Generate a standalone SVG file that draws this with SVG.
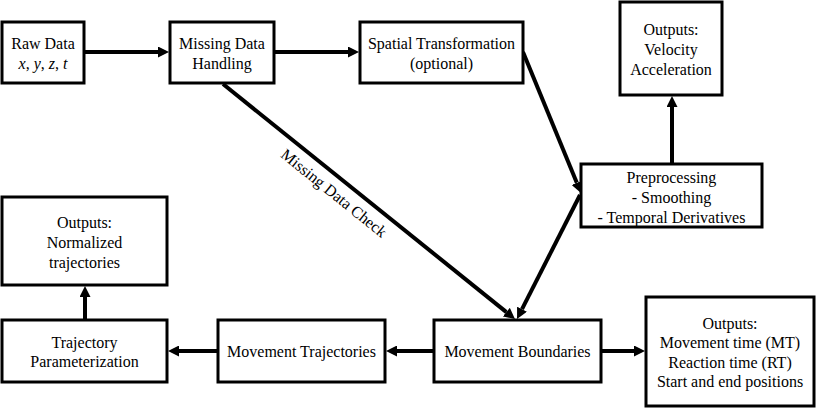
<svg xmlns="http://www.w3.org/2000/svg" width="816" height="408" viewBox="0 0 816 408">
<style>
.box{fill:#fff;stroke:#000;stroke-width:3}
.t{font-family:"Liberation Serif","Times New Roman",serif;font-size:16px;fill:#000;text-anchor:middle}
.c{fill:none;stroke:#000;stroke-width:4}
</style>
<defs>
<marker id="ah" viewBox="0 0 11 11" markerWidth="11" markerHeight="11" refX="0" refY="5.5" markerUnits="userSpaceOnUse" orient="auto">
<path d="M0,0 L11,5.5 L0,11 z" fill="#000"/>
</marker>
</defs>
<rect width="816" height="408" fill="#fff"/>
<g id="connectors">
<line class="c" x1="85" y1="52" x2="158" y2="52" marker-end="url(#ah)"/>
<line class="c" x1="274" y1="52" x2="348" y2="52" marker-end="url(#ah)"/>
<line class="c" x1="523" y1="52" x2="576.8" y2="182.8" marker-end="url(#ah)"/>
<line class="c" x1="672" y1="163" x2="672" y2="107" marker-end="url(#ah)"/>
<line class="c" x1="580" y1="195" x2="522" y2="309.2" marker-end="url(#ah)"/>
<line class="c" x1="223" y1="84" x2="506.4" y2="312.1" marker-end="url(#ah)"/>
<line class="c" x1="602" y1="351" x2="634" y2="351" marker-end="url(#ah)"/>
<line class="c" x1="433" y1="351" x2="397" y2="351" marker-end="url(#ah)"/>
<line class="c" x1="217" y1="351" x2="179" y2="351" marker-end="url(#ah)"/>
<line class="c" x1="85" y1="319" x2="85" y2="297" marker-end="url(#ah)"/>
<text class="t" transform="translate(334,193) rotate(38.9)" x="0" y="5.5">Missing Data Check</text>
</g>
<g id="raw">
<rect class="box" x="2" y="22" width="82" height="61"/>
<text class="t" x="43" y="48.5">Raw Data</text>
<text class="t" x="43" y="68.5"><tspan font-style="italic">x</tspan>, <tspan font-style="italic">y</tspan>, <tspan font-style="italic">z</tspan>, <tspan font-style="italic">t</tspan></text>
</g>
<g id="mdh">
<rect class="box" x="170" y="22" width="104" height="61"/>
<text class="t" x="222" y="48.5">Missing Data</text>
<text class="t" x="222" y="68.5">Handling</text>
</g>
<g id="spatial">
<rect class="box" x="360" y="22" width="163" height="61"/>
<text class="t" x="441.5" y="48.5">Spatial Transformation</text>
<text class="t" x="441.5" y="68.5">(optional)</text>
</g>
<g id="velocity">
<rect class="box" x="620" y="2" width="102" height="93"/>
<text class="t" x="671" y="35">Outputs:</text>
<text class="t" x="671" y="55">Velocity</text>
<text class="t" x="671" y="75">Acceleration</text>
</g>
<g id="preproc">
<rect class="box" x="581" y="164" width="181" height="63"/>
<text class="t" x="671.5" y="182.5">Preprocessing</text>
<text class="t" x="671.5" y="202.5">- Smoothing</text>
<text class="t" x="671.5" y="222.5">- Temporal Derivatives</text>
</g>
<g id="mb">
<rect class="box" x="434" y="320" width="167" height="62"/>
<text class="t" x="517.5" y="356.5">Movement Boundaries</text>
</g>
<g id="outmt">
<rect class="box" x="646" y="297" width="168" height="109"/>
<text class="t" x="730" y="328.5">Outputs:</text>
<text class="t" x="730" y="348">Movement time (MT)</text>
<text class="t" x="730" y="367.5">Reaction time (RT)</text>
<text class="t" x="730" y="386.5">Start and end positions</text>
</g>
<g id="mt">
<rect class="box" x="218" y="320" width="167" height="62"/>
<text class="t" x="301.5" y="356.5">Movement Trajectories</text>
</g>
<g id="tp">
<rect class="box" x="2" y="320" width="165" height="62"/>
<text class="t" x="84.5" y="347.5">Trajectory</text>
<text class="t" x="84.5" y="366.5">Parameterization</text>
</g>
<g id="on">
<rect class="box" x="2" y="197" width="165" height="88"/>
<text class="t" x="84.5" y="227.5">Outputs:</text>
<text class="t" x="84.5" y="247.5">Normalized</text>
<text class="t" x="84.5" y="267.5">trajectories</text>
</g>
</svg>
